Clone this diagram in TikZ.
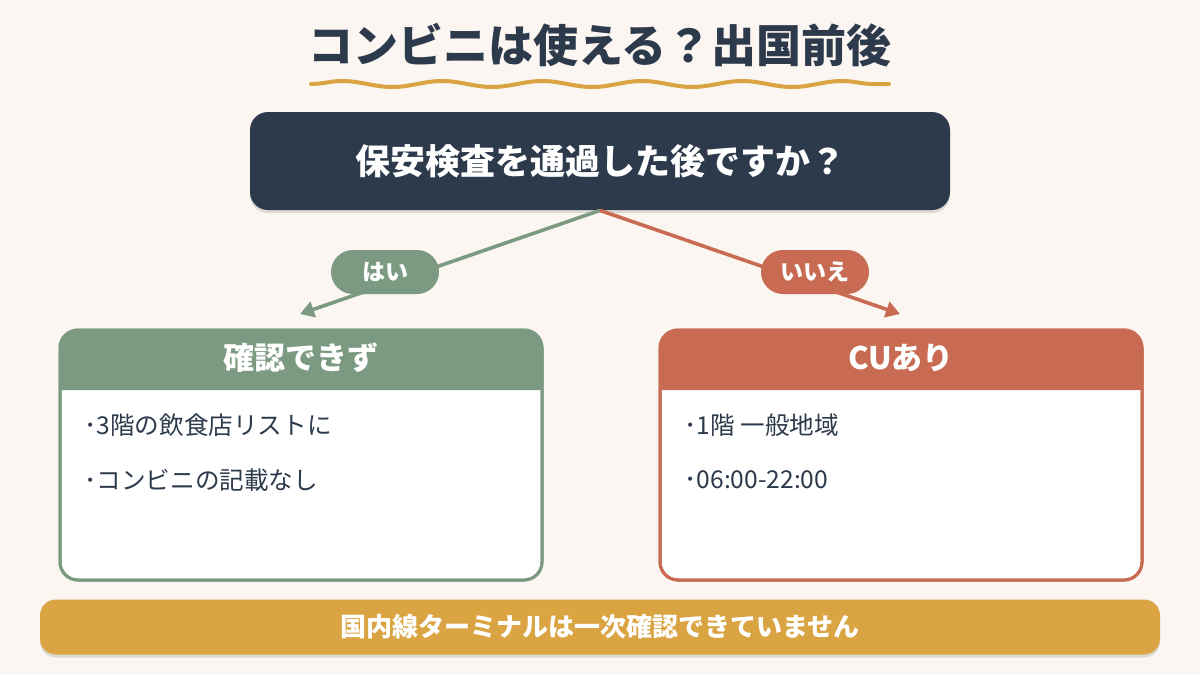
\documentclass[tikz,border=0pt]{standalone}
\usepackage{fontspec}
\setmainfont{Noto Sans CJK JP}
\usetikzlibrary{arrows.meta,decorations.pathmorphing,shadows}
\definecolor{bg}{HTML}{FBF6F1}
\definecolor{navy}{HTML}{2C3A4B}
\definecolor{sage}{HTML}{7C9A82}
\definecolor{rust}{HTML}{C86B52}
\definecolor{gold}{HTML}{D9A441}
\tikzset{
  softshadow/.style={drop shadow={shadow xshift=0pt, shadow yshift=-1.5pt, opacity=0.12, fill=black}},
  pill/.style={rounded corners=11pt, minimum width=54pt, minimum height=22pt, inner sep=0pt, text=white, font=\fontsize{11.5}{13}\selectfont\bfseries},
  card/.style={draw=#1, fill=white, line width=1.5pt, rounded corners=9pt, minimum width=241pt, minimum height=125pt, inner sep=0pt},
  cardtitle/.style={text=white, font=\fontsize{15.5}{18}\selectfont\bfseries},
  bodytext/.style={anchor=west, inner sep=0pt, text=navy, font=\fontsize{12.3}{15}\selectfont},
  branch/.style={line width=1.8pt, -{Triangle[length=7pt,width=8pt]}},
}
\begin{document}
\begin{tikzpicture}[x=0.5pt,y=-0.5pt]
\fill[bg] (0,0) rectangle (1200,675);
\useasboundingbox (0,0) rectangle (1200,675);

% title
\node[text=navy, font=\fontsize{22.5}{26}\selectfont\bfseries] (title) at (600,45) {コンビニは使える？出国前後};
\coordinate (w1) at (311,84);
\coordinate (w2) at (889,84);
\draw[gold, line width=2pt, line cap=round, decorate, decoration={snake, segment length=50pt, amplitude=1.5pt}] (w1) -- (w2);

% question
\node[fill=navy, rounded corners=9pt, minimum width=350pt, minimum height=49pt, text=white, font=\fontsize{17.5}{20}\selectfont\bfseries, softshadow] (q) at (600,161) {保安検査を通過した後ですか？};

% cards
\node[card=sage] (lbox) at (301,455) {};
\fill[sage] (60,390) [rounded corners=9pt] -- (60,330) -- (542,330) [sharp corners] -- (542,390) -- cycle;
\draw[sage, line width=1.5pt, rounded corners=9pt] (60,330) rectangle (542,580);
\node[cardtitle] (ltitle) at (301,358) {確認できず};
\node[bodytext] (l1) at (84,425) {･3階の飲食店リストに};
\node[bodytext] (l2) at (84,480) {･コンビニの記載なし};

\node[card=rust] (rbox) at (901,455) {};
\fill[rust] (660,390) [rounded corners=9pt] -- (660,330) -- (1142,330) [sharp corners] -- (1142,390) -- cycle;
\draw[rust, line width=1.5pt, rounded corners=9pt] (660,330) rectangle (1142,580);
\node[cardtitle] (rtitle) at (901,358) {CUあり};
\node[bodytext] (r1) at (684,425) {･1階 一般地域};
\node[bodytext] (r2) at (684,480) {･06:00-22:00};

% branches
\coordinate (lt) at (300,314);
\coordinate (rt) at (900,314);
\draw[branch, sage] (q.south) -- (lt);
\draw[branch, rust] (q.south) -- (rt);
\node[pill, fill=sage] (yes) at (385,272) {はい};
\node[pill, fill=rust] (no) at (815,272) {いいえ};

% bottom
\node[fill=gold, rounded corners=8pt, minimum width=560pt, minimum height=27.5pt, text=white, font=\fontsize{13}{15}\selectfont\bfseries, softshadow] (note) at (600,627) {国内線ターミナルは一次確認できていません};
\end{tikzpicture}
\end{document}
